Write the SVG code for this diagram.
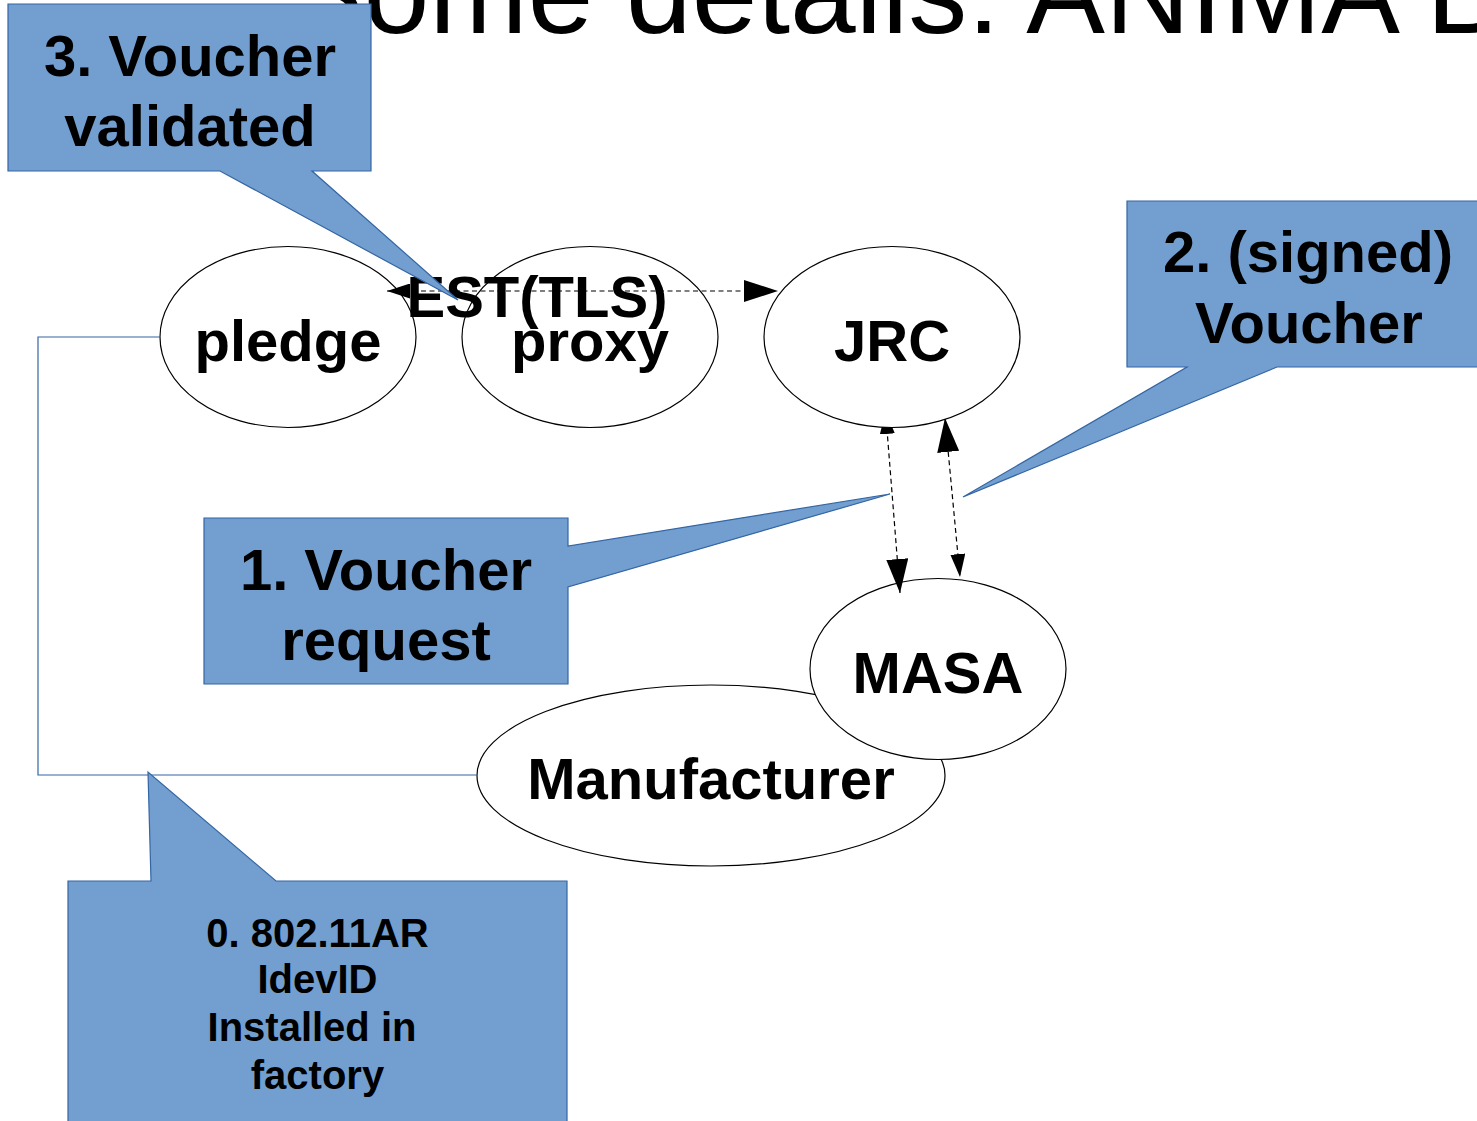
<svg xmlns="http://www.w3.org/2000/svg" width="1477" height="1121" viewBox="0 0 1477 1121">
  <style>
    .title { font-family: "Liberation Sans", Arial, sans-serif; font-size: 118px; fill: #000; }
    .lbl { font-family: "Liberation Sans", Arial, sans-serif; font-weight: bold; font-size: 58px; fill: #000; text-anchor: middle; }
    .small { font-family: "Liberation Sans", Arial, sans-serif; font-weight: bold; font-size: 40px; fill: #000; text-anchor: middle; }
    .node { fill: #ffffff; stroke: #000; stroke-width: 1.2; }
    .callout { fill: #729fcf; stroke: #3465a4; stroke-width: 1.2; }
    .dash { fill: none; stroke: #000; stroke-width: 1.2; stroke-dasharray: 5 3.5; }
    .link { fill: none; stroke: #3465a4; stroke-width: 1.2; }
  </style>
  <defs>
    <marker id="ahBig" markerUnits="userSpaceOnUse" markerWidth="34" markerHeight="22" viewBox="0 0 34 22" refX="34" refY="11" orient="auto-start-reverse">
      <path d="M0,0 L34,11 L0,22 Z" fill="#000"/>
    </marker>
    <marker id="ahSmall" markerUnits="userSpaceOnUse" markerWidth="23" markerHeight="15" viewBox="0 0 23 15" refX="23" refY="7.5" orient="auto-start-reverse">
      <path d="M0,0 L23,7.5 L0,15 Z" fill="#000"/>
    </marker>
  </defs>

  <rect width="1477" height="1121" fill="#ffffff"/>

  <text class="title" x="285" y="33">Some details: ANIMA B</text>

  <g id="pledge">
    <ellipse class="node" cx="288" cy="337" rx="128" ry="90.5"/>
    <text class="lbl" x="288" y="361">pledge</text>
  </g>
  <g id="proxy">
    <ellipse class="node" cx="590" cy="337" rx="128" ry="90.5"/>
    <text class="lbl" x="590" y="361">proxy</text>
  </g>
  <g id="manufacturer">
    <ellipse class="node" cx="711" cy="775.5" rx="234" ry="90.5"/>
    <text class="lbl" x="711" y="799">Manufacturer</text>
  </g>
  <g id="masa">
    <ellipse class="node" cx="938" cy="669" rx="128" ry="90.5"/>
    <text class="lbl" x="938" y="693">MASA</text>
  </g>

  <g id="connectors">
    <path class="link" d="M160,337 H38 V775 H477"/>
    <path class="dash" d="M387,291 H778" marker-start="url(#ahSmall)" marker-end="url(#ahBig)"/>
    <text class="lbl" x="537" y="317">EST(TLS)</text>
    <path class="dash" d="M885.5,411 L900,593" marker-start="url(#ahSmall)" marker-end="url(#ahBig)"/>
    <path class="dash" d="M945,418 L960,577" marker-start="url(#ahBig)" marker-end="url(#ahSmall)"/>
  </g>

  <g id="jrc">
    <ellipse class="node" cx="892" cy="337" rx="128" ry="90.5"/>
    <text class="lbl" x="892" y="361">JRC</text>
  </g>

  <g id="callout3">
    <path class="callout" d="M8,4 H371 V171 H312 L458,300 L220,171 H8 Z"/>
    <text class="lbl" x="190" y="76">3. Voucher</text>
    <text class="lbl" x="190" y="146">validated</text>
  </g>
  <g id="callout2">
    <path class="callout" d="M1127,201 H1490 V367 H1277 L963,497 L1187,367 H1127 Z"/>
    <text class="lbl" x="1308" y="272">2. (signed)</text>
    <text class="lbl" x="1309" y="343">Voucher</text>
  </g>
  <g id="callout1">
    <path class="callout" d="M204,518 H568 V546 L890,494 L568,587 V684 H204 Z"/>
    <text class="lbl" x="386" y="590">1. Voucher</text>
    <text class="lbl" x="386" y="660">request</text>
  </g>
  <g id="callout0">
    <path class="callout" d="M68,881 H151 L148,772 L276,881 H567 V1130 H68 Z"/>
    <text class="small" x="317.5" y="947">0. 802.11AR</text>
    <text class="small" x="317.5" y="993">IdevID</text>
    <text class="small" x="312" y="1041">Installed in</text>
    <text class="small" x="317.5" y="1089">factory</text>
  </g>
</svg>
